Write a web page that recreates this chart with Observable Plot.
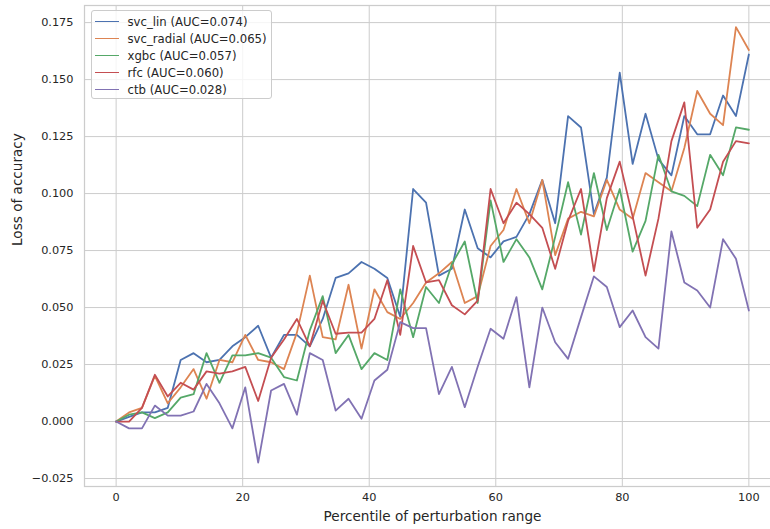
<!DOCTYPE html>
<html>
<head>
<meta charset="utf-8">
<script src="https://cdn.jsdelivr.net/npm/d3@7"></script>
<script src="https://cdn.jsdelivr.net/npm/@observablehq/plot@0.6"></script>
<style>
  html, body { margin: 0; padding: 0; background: #fff; overflow: hidden; }
  #wrap { position: relative; width: 770px; height: 529px; overflow: hidden; font-family: "DejaVu Sans", sans-serif; }
  #wrap svg { max-width: none !important; }
  #legend { position: absolute; left: 90.5px; top: 10px; width: 181.5px; height: 88.5px; box-sizing: border-box;
            border: 1px solid #cccccc; border-radius: 3px; background: rgba(255,255,255,0.8); }
  .row { position: absolute; left: 0; height: 17px; display: flex; align-items: center; font-size: 11.7px; color: #262626; white-space: nowrap; }
  .sw { width: 24px; height: 0; border-top: 1.8px solid; margin-left: 3px; margin-right: 9px; }
</style>
</head>
<body>
<div id="wrap"><div id="legend"></div></div>
<script>
const pct = [0, 2.04, 4.08, 6.12, 8.16, 10.2, 12.24, 14.29, 16.33, 18.37, 20.41, 22.45, 24.49, 26.53, 28.57, 30.61, 32.65, 34.69, 36.73, 38.78, 40.82, 42.86, 44.9, 46.94, 48.98, 51.02, 53.06, 55.1, 57.14, 59.18, 61.22, 63.27, 65.31, 67.35, 69.39, 71.43, 73.47, 75.51, 77.55, 79.59, 81.63, 83.67, 85.71, 87.76, 89.8, 91.84, 93.88, 95.92, 97.96, 100];

const svc_lin = [0, 0.002, 0.004, 0.004, 0.006, 0.027, 0.030, 0.026, 0.027, 0.033, 0.037, 0.042, 0.028, 0.038, 0.038, 0.033, 0.045, 0.063, 0.065, 0.070, 0.067, 0.063, 0.046, 0.102, 0.096, 0.064, 0.067, 0.093, 0.076, 0.072, 0.079, 0.081, 0.091, 0.106, 0.087, 0.134, 0.129, 0.091, 0.107, 0.153, 0.113, 0.135, 0.115, 0.108, 0.134, 0.126, 0.126, 0.143, 0.134, 0.161];
const svc_radial = [0, 0.004, 0.006, 0.020, 0.008, 0.015, 0.023, 0.010, 0.027, 0.026, 0.038, 0.027, 0.026, 0.023, 0.039, 0.064, 0.037, 0.036, 0.060, 0.032, 0.058, 0.048, 0.045, 0.052, 0.061, 0.065, 0.070, 0.052, 0.055, 0.077, 0.084, 0.102, 0.087, 0.106, 0.073, 0.089, 0.092, 0.090, 0.106, 0.093, 0.089, 0.109, 0.105, 0.101, 0.120, 0.145, 0.135, 0.130, 0.173, 0.163];
const xgbc = [0, 0.003, 0.004, 0.0015, 0.004, 0.0105, 0.012, 0.030, 0.017, 0.029, 0.029, 0.030, 0.028, 0.0195, 0.018, 0.040, 0.055, 0.030, 0.038, 0.023, 0.030, 0.027, 0.058, 0.037, 0.059, 0.052, 0.069, 0.079, 0.052, 0.097, 0.070, 0.080, 0.072, 0.058, 0.081, 0.105, 0.082, 0.109, 0.084, 0.102, 0.0745, 0.088, 0.117, 0.101, 0.099, 0.0945, 0.117, 0.108, 0.129, 0.128];
const rfc = [0, 0, 0.006, 0.0205, 0.011, 0.017, 0.014, 0.022, 0.021, 0.022, 0.024, 0.009, 0.028, 0.036, 0.045, 0.033, 0.053, 0.0385, 0.039, 0.039, 0.045, 0.062, 0.038, 0.077, 0.061, 0.062, 0.051, 0.047, 0.053, 0.102, 0.087, 0.096, 0.091, 0.085, 0.067, 0.088, 0.102, 0.066, 0.098, 0.114, 0.090, 0.064, 0.089, 0.123, 0.140, 0.085, 0.093, 0.114, 0.123, 0.122];
const ctb = [0, -0.003, -0.003, 0.007, 0.0026, 0.0026, 0.0044, 0.0165, 0.008, -0.003, 0.015, -0.018, 0.0136, 0.0165, 0.003, 0.030, 0.027, 0.0048, 0.010, 0.0012, 0.018, 0.0227, 0.0436, 0.041, 0.041, 0.012, 0.024, 0.0063, 0.024, 0.0407, 0.0363, 0.0546, 0.015, 0.050, 0.0348, 0.0275, 0.0458, 0.0637, 0.059, 0.0414, 0.0487, 0.037, 0.032, 0.0834, 0.061, 0.0575, 0.050, 0.080, 0.0714, 0.0487];

const models = ["svc_lin", "svc_radial", "xgbc", "rfc", "ctb"];
const aucs = ["0.074", "0.065", "0.057", "0.060", "0.028"];
const colors = ["#4c72b0", "#dd8452", "#55a868", "#c44e52", "#8172b3"];
const xTicks = [0, 20, 40, 60, 80, 100];
const yTicks = [-0.025, 0, 0.025, 0.05, 0.075, 0.1, 0.125, 0.15, 0.175];

const seriesValues = [svc_lin, svc_radial, xgbc, rfc, ctb];
const data = [];
models.forEach((m, k) => seriesValues[k].forEach((v, i) => data.push({model: m, x: pct[i], y: v})));

const chart = Plot.plot({
  width: 780,
  height: 529,
  marginLeft: 84,
  marginRight: 0,
  marginTop: 5,
  marginBottom: 43,
  style: {fontFamily: "DejaVu Sans, sans-serif", fontSize: "11.3px", color: "#262626", background: "#fff", overflow: "visible", maxWidth: "none"},
  x: {domain: [-5, 105]},
  y: {domain: [-0.0285, 0.1825]},
  color: {domain: models, range: colors},
  marks: [
    Plot.gridX(xTicks, {stroke: "#cccccc", strokeOpacity: 1, strokeWidth: 1}),
    Plot.gridY(yTicks, {stroke: "#cccccc", strokeOpacity: 1, strokeWidth: 1}),
    Plot.frame({stroke: "#cccccc", strokeWidth: 1.25}),
    Plot.axisX(xTicks, {tickSize: 0, tickPadding: 6, label: null, tickFormat: d3.format("d")}),
    Plot.axisY(yTicks, {tickSize: 0, tickPadding: 11, label: null, tickFormat: d3.format(".3f")}),
    Plot.text(["Percentile of perturbation range"], {frameAnchor: "bottom", dy: 30, fontSize: 13.6, fill: "#262626", lineAnchor: "middle"}),
    Plot.text(["Loss of accuracy"], {frameAnchor: "left", dx: -67, rotate: -90, fontSize: 13.6, fill: "#262626", lineAnchor: "middle"}),
    Plot.line(data, {x: "x", y: "y", z: "model", stroke: "model", strokeWidth: 1.8, strokeLinejoin: "round"})
  ]
});
chart.style.maxWidth = "none";
const wrap = document.getElementById("wrap");
wrap.insertBefore(chart, wrap.firstChild);

const legend = document.getElementById("legend");
models.forEach((m, k) => {
  const row = document.createElement("div");
  row.className = "row";
  row.style.top = (2 + k * 17.1) + "px";
  const sw = document.createElement("div");
  sw.className = "sw";
  sw.style.borderTopColor = colors[k];
  const t = document.createElement("span");
  t.textContent = `${m} (AUC=${aucs[k]})`;
  row.appendChild(sw);
  row.appendChild(t);
  legend.appendChild(row);
});
</script>
</body>
</html>
